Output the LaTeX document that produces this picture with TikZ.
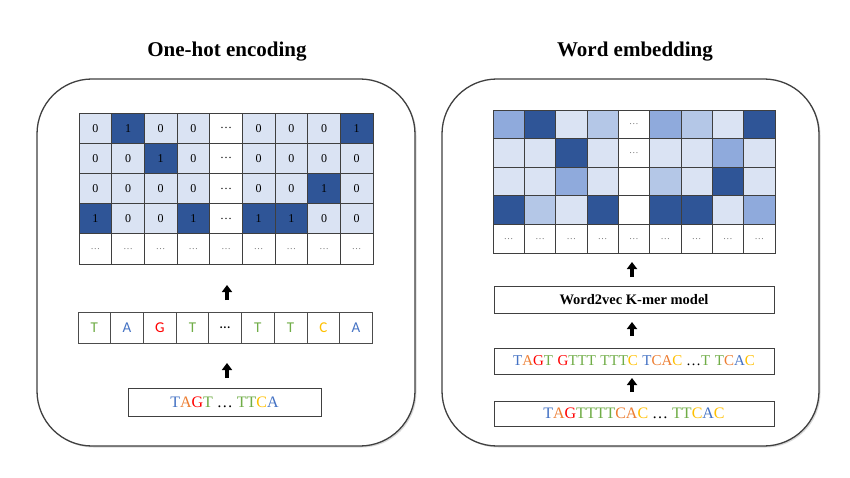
\documentclass[tikz,border=0pt]{standalone}
\usepackage{fontspec}
\setmainfont{Liberation Serif}
\newfontfamily\calib{Carlito}
\usetikzlibrary{arrows.meta,shadows}
\definecolor{dk}{HTML}{2F5597}
\definecolor{lt}{HTML}{DAE3F3}
\definecolor{md}{HTML}{8FAADC}
\definecolor{lb}{HTML}{B4C7E7}
\definecolor{cT}{HTML}{70AD47}
\definecolor{cA}{HTML}{4472C4}
\definecolor{cG}{HTML}{FF0000}
\definecolor{cC}{HTML}{FFC000}
\definecolor{cO}{HTML}{ED7D31}
\definecolor{gridline}{HTML}{3F3F3F}
\newcommand{\nT}{\textcolor{cT}{T}}
\newcommand{\bT}{\textcolor{cA}{T}}
\newcommand{\nA}{\textcolor{cA}{A}}
\newcommand{\oA}{\textcolor{cO}{A}}
\newcommand{\nG}{\textcolor{cG}{G}}
\newcommand{\nC}{\textcolor{cC}{C}}
\newcommand{\oC}{\textcolor{cO}{C}}
\begin{document}
\begin{tikzpicture}[x=1pt,y=-1pt,
  panel/.style={draw=black!75, line width=1.3pt, rounded corners=55pt, fill=white,
    drop shadow={shadow xshift=1.5pt, shadow yshift=-1.5pt, opacity=0.3},
    minimum width=378pt, minimum height=367pt, inner sep=0pt},
  title/.style={font=\bfseries\fontsize{21}{24}\selectfont},
  lcell/.style={draw=gridline, line width=0.8pt, minimum width=32.67pt, minimum height=30.2pt,
    inner sep=0pt, font=\fontsize{12}{14}\selectfont},
  rcell/.style={draw=gridline, line width=0.8pt, minimum width=31.33pt, minimum height=28.6pt,
    inner sep=0pt, font=\fontsize{12}{14}\selectfont},
  scell/.style={draw=black!70, line width=0.8pt, minimum width=32.7pt, minimum height=31pt,
    inner sep=0pt, font=\calib\fontsize{15}{18}\selectfont},
  tbox/.style={draw=black!75, line width=0.9pt, inner sep=0pt, fill=white},
  dots/.style={text=black!55, font=\fontsize{9.5}{11}\selectfont},
  uparrow/.style={-{Triangle[width=10pt,length=7pt]}, line width=3.6pt}
]
\useasboundingbox (0,0) rectangle (850,478);
\fill[white] (0,0) rectangle (850,478);

% panels
\node[panel] (lpanel) at (226,262.5) {};
\node[panel, minimum width=377pt] (rpanel) at (630.5,262.5) {};

% titles
\node[title] (ltitle) at (227,52) {One-hot encoding};
\node[title] (rtitle) at (635,52) {Word embedding};

% left grid
\foreach \rowspec [count=\r] in {
  {lt/0,dk/1,lt/0,lt/0,white/…,lt/0,lt/0,lt/0,dk/1},
  {lt/0,lt/0,dk/1,lt/0,white/…,lt/0,lt/0,lt/0,lt/0},
  {lt/0,lt/0,lt/0,lt/0,white/…,lt/0,lt/0,dk/1,lt/0},
  {dk/1,lt/0,lt/0,dk/1,white/…,dk/1,dk/1,lt/0,lt/0}}
{
  \foreach \f/\t [count=\c] in \rowspec {
    \node[lcell, fill=\f] (L-\r-\c) at ({79+(\c-0.5)*32.67},{113+(\r-0.5)*30.2}) {\t};
  }
}
\foreach \c in {1,...,9} {
  \node[lcell, fill=white, dots] (L-5-\c) at ({79+(\c-0.5)*32.67},{113+4.5*30.2}) {…};
}

% left sequence row
\foreach \f/\t [count=\c] in {cT/T,cA/A,cG/G,cT/T,black/…,cT/T,cT/T,cC/C,cA/A} {
  \node[scell, text=\f] (S-\c) at ({78+(\c-0.5)*32.7},327.5) {\t};
}

% left input box
\node[tbox, minimum width=193pt, minimum height=28pt, font=\fontsize{16}{18}\selectfont]
  (lin) at (224.5,402) {\bT\oA\nG\nT{} … \nT\nT\nC\nA};

% left arrows
\coordinate (la1s) at (227,300);
\coordinate (la1e) at (227,285);
\coordinate (la2s) at (227,378);
\coordinate (la2e) at (227,363);
\draw[uparrow] (la1s) -- (la1e);
\draw[uparrow] (la2s) -- (la2e);

% right grid
\foreach \rowspec [count=\r] in {
  {md/,dk/,lt/,lb/,white/dd,md/,lb/,lt/,dk/},
  {lt/,lt/,dk/,lt/,white/dd,lt/,lt/,md/,lt/},
  {lt/,lt/,md/,lt/,white/,lb/,lt/,dk/,lt/},
  {dk/,lb/,lt/,dk/,white/,dk/,dk/,lt/,md/},
  {white/dd,white/dd,white/dd,white/dd,white/dd,white/dd,white/dd,white/dd,white/dd}}
{
  \foreach \f/\t [count=\c] in \rowspec {
    \node[rcell, fill=\f, dots] (R-\r-\c) at ({493+(\c-0.5)*31.33},{110+(\r-0.5)*28.6})
      {\ifx\t\empty\else …\fi};
  }
}

% right boxes
\node[tbox, minimum width=280pt, minimum height=27pt, font=\bfseries\fontsize{14.5}{17}\selectfont]
  (w2v) at (634,299.5) {Word2vec K-mer model};
\node[tbox, minimum width=280pt, minimum height=26pt, font=\fontsize{15}{18}\selectfont]
  (kmer) at (634,361) {\bT\oA\nG\nT\hspace{0.3em}\nG\nT\nT\nT\hspace{0.3em}\nT\nT\nT\nC\hspace{0.3em}\bT\oC\oA\nC{} …\nT\hspace{0.3em}\nT\oC\nA\nC};
\node[tbox, minimum width=280pt, minimum height=25pt, font=\fontsize{16}{18}\selectfont]
  (rin) at (634,413.5) {\bT\oA\nG\nT\nT\nT\nT\oC\oA\nC{} … \nT\nT\nC\nA\nC};

% right arrows
\coordinate (ra1s) at (632,277);
\coordinate (ra1e) at (632,262);
\coordinate (ra2s) at (632,336);
\coordinate (ra2e) at (632,322);
\coordinate (ra3s) at (632,392);
\coordinate (ra3e) at (632,378);
\draw[uparrow] (ra1s) -- (ra1e);
\draw[uparrow] (ra2s) -- (ra2e);
\draw[uparrow] (ra3s) -- (ra3e);
\end{tikzpicture}
\end{document}
